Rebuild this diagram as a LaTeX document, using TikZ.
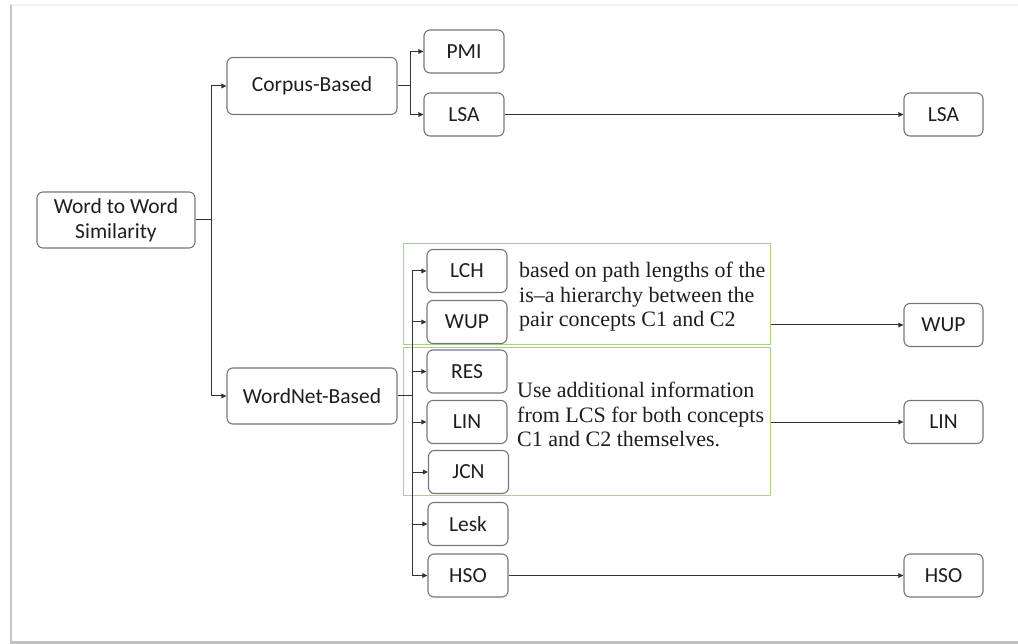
\documentclass[tikz,border=0pt]{standalone}
\usepackage{fontspec}
\setmainfont{Liberation Serif}
\newfontfamily\calibri{Carlito}
\usetikzlibrary{arrows.meta}

\definecolor{boxgray}{RGB}{118,118,118}
\definecolor{linegray}{RGB}{50,50,50}
\definecolor{notegreen}{RGB}{169,209,142}
\definecolor{inkblack}{RGB}{30,30,30}

\tikzset{
  box/.style={draw=boxgray, line width=1.1pt, rounded corners=6pt, inner sep=0pt,
    minimum width=80pt, minimum height=43pt, text=inkblack,
    font=\calibri\fontsize{21.5}{25}\selectfont},
  link/.style={draw=linegray, line width=1pt, -{Triangle[length=5pt,width=4.5pt]}},
  joint/.style={draw=linegray, line width=1pt},
  notebox/.style={draw=notegreen, line width=1pt, inner sep=0pt},
  notetext/.style={inner sep=0pt, anchor=north west, align=left, text=inkblack,
    font=\fontsize{22}{24.5}\selectfont},
}

\begin{document}
\begin{tikzpicture}[x=1pt, y=-1pt]
\useasboundingbox (0,0) rectangle (1018,644);

% frame
\draw[gray!12, line width=2pt] (10,5) -- (1018,5);
\draw[gray!45, line width=2pt] (10.5,5) -- (10.5,641);
\draw[gray!50, line width=3pt] (10,642) -- (1018,642);

% green groups
\node[notebox, minimum width=367pt, minimum height=101pt] (gpath) at (586.5,294.5) {};
\node[notebox, minimum width=367pt, minimum height=147pt] (ginfo) at (586.5,421.5) {};

% main boxes
\node[box, minimum width=158pt, minimum height=56pt, align=center] (word) at (116,220) {Word to Word\\Similarity};
\node[box, minimum width=170pt, minimum height=57pt] (corpus) at (312,86) {Corpus-Based};
\node[box, minimum width=170pt, minimum height=56pt] (wordnet) at (312,396) {WordNet-Based};

% corpus measures
\node[box] (pmi) at (464,51.5) {PMI};
\node[box] (lsa) at (464,114.5) {LSA};

% wordnet measures
\node[box] (lch) at (467,271) {LCH};
\node[box] (wup) at (467,322) {WUP};
\node[box] (res) at (467,371.5) {RES};
\node[box] (lin) at (467,422) {LIN};
\node[box] (jcn) at (468.5,472) {JCN};
\node[box] (lesk) at (468,524) {Lesk};
\node[box] (hso) at (468,575.5) {HSO};

% right column
\node[box, minimum width=79pt] (lsaR) at (943.5,114.5) {LSA};
\node[box, minimum width=79pt] (wupR) at (943.5,325) {WUP};
\node[box, minimum width=79pt] (linR) at (943.5,422) {LIN};
\node[box, minimum width=79pt] (hsoR) at (943.5,575.5) {HSO};

% notes
\node[notetext] (pathnote) at (519,262) {based on path lengths of the\\is--a hierarchy between the\\pair concepts C1 and C2};
\node[notetext] (infonote) at (517,382) {Use additional information\\from LCS for both concepts\\C1 and C2 themselves.};

% connectors
\coordinate (jWord) at (211,220);
\coordinate (jCorpus) at (410,86);
\coordinate (jNet) at (412,396);

\draw[joint] (word.east) -- (jWord);
\draw[link] (jWord) |- (corpus.west);
\draw[link] (jWord) |- (wordnet.west);

\draw[joint] (corpus.east) -- (jCorpus);
\draw[link] (jCorpus) |- (pmi.west);
\draw[link] (jCorpus) |- (lsa.west);

\draw[joint] (wordnet.east) -- (jNet);
\foreach \m in {lch,wup,res,lin,jcn,lesk,hso}
  \draw[link] (jNet) |- (\m.west);

\draw[link] (lsa.east) -- (lsaR.west);
\draw[link] (gpath.east |- wupR.west) -- (wupR.west);
\draw[link] (ginfo.east |- linR.west) -- (linR.west);
\draw[link] (hso.east) -- (hsoR.west);
\end{tikzpicture}
\end{document}
